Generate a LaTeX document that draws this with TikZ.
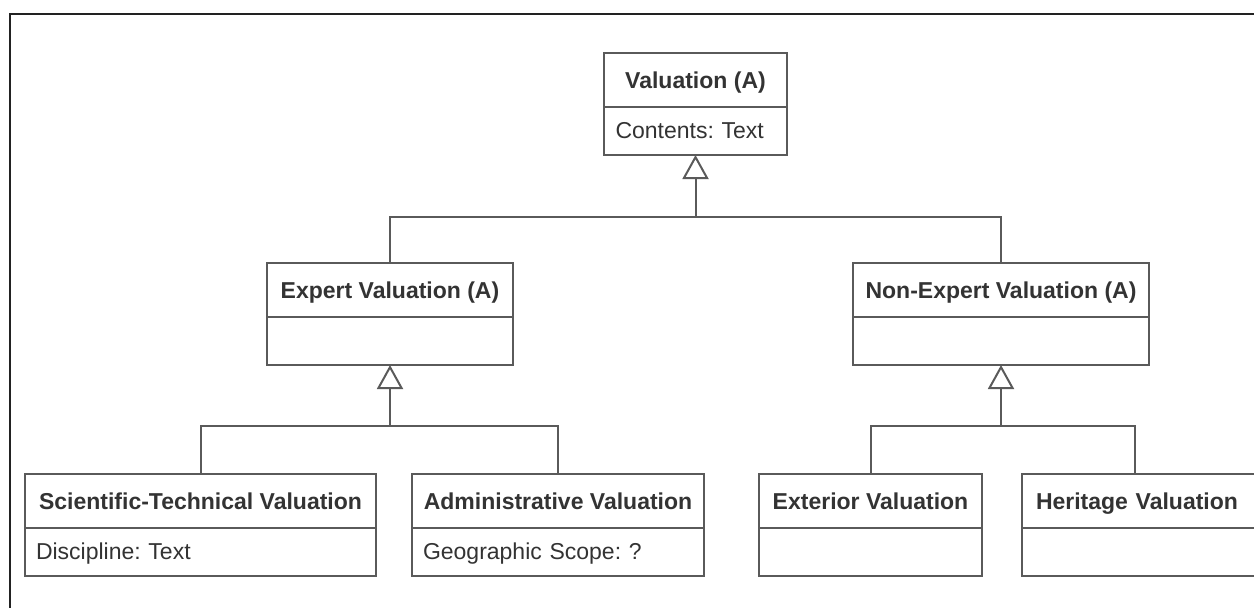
\documentclass[tikz,border=0pt]{standalone}
\usepackage{fontspec}
\setmainfont{Liberation Sans}
\usetikzlibrary{arrows.meta,calc}
\definecolor{linec}{HTML}{5A5A5A}
\definecolor{textc}{HTML}{333333}
\definecolor{framec}{HTML}{222222}
\tikzset{
  box/.style={draw=linec, line width=2pt, inner sep=0pt, outer sep=0pt, text=textc, fill=white},
  ctitle/.style={box, font=\fontsize{23}{27}\selectfont\bfseries, minimum height=54pt, anchor=north, text height=18.5pt, text depth=2pt},
  cattr/.style={box, font=\fontsize{23}{27}\selectfont, minimum height=48pt, anchor=north, align=left, text height=17pt, text depth=3pt},
  conn/.style={draw=linec, line width=2pt},
  gen/.style={conn, -{Triangle[open, length=24pt, width=26pt, line width=2pt]}},
}
\begin{document}
\frenchspacing
\begin{tikzpicture}[x=1pt, y=-1pt]
\useasboundingbox (0,0) rectangle (1254,608);
\clip (0,0) rectangle (1254,608);
\draw[framec, line width=2pt] (10,1000) -- (10,14) -- (1300,14);

% top
\node[ctitle, minimum width=183pt] (v) at (695.5,53) {Valuation (A)};
\node[cattr, minimum width=183pt, text width=160pt] (va) at (v.south) {Contents: Text};

% middle
\node[ctitle, minimum width=246pt] (e) at (390,263) {Expert Valuation (A)};
\node[cattr, minimum width=246pt] (ea) at (e.south) {};
\node[ctitle, minimum width=296pt] (n) at (1001,263) {Non-Expert Valuation (A)};
\node[cattr, minimum width=296pt] (na) at (n.south) {};

% bottom
\node[ctitle, minimum width=351pt] (s) at (200.5,474) {Scientific-Technical Valuation};
\node[cattr, minimum width=351pt, text width=329pt] (sa) at (s.south) {Discipline: Text};
\node[ctitle, minimum width=292pt] (ad) at (558,474) {Administrative Valuation};
\node[cattr, minimum width=292pt, text width=270pt] (ada) at (ad.south) {Geographic Scope: ?};
\node[ctitle, minimum width=223pt] (x) at (870.5,474) {Exterior Valuation};
\node[cattr, minimum width=223pt] (xa) at (x.south) {};
\node[ctitle, anchor=north west, minimum width=240pt, text width=212pt, align=left, inner xsep=14pt] (h) at (1022,474) {Heritage Valuation};
\node[cattr, anchor=north west, minimum width=240pt] (ha) at (h.south west) {};

% junctions
\coordinate (j1) at (695.5,217);
\coordinate (j2) at (390,426);
\coordinate (j3) at (1001,426);

\draw[gen] (j1) -- (va.south);
\draw[conn] (e.north) |- (j1) -| (n.north);
\draw[gen] (j2) -- (ea.south);
\draw[conn] (s.north) |- (j2) -| (ad.north);
\draw[gen] (j3) -- (na.south);
\draw[conn] (x.north) |- (j3) -| ($(h.north west)+(113,0)$);
\end{tikzpicture}
\end{document}
